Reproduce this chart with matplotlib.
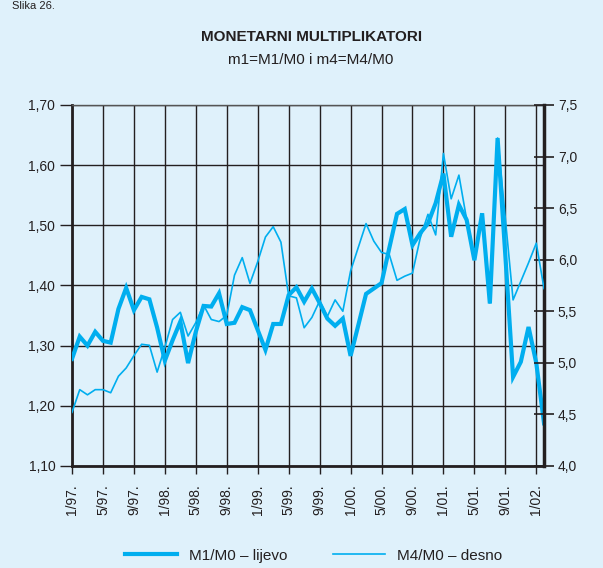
import matplotlib.pyplot as plt
from matplotlib.ticker import FuncFormatter

# monthly values, 1/97 .. 2/02
m1_m0 = [
    1.278, 1.315, 1.300, 1.323, 1.308, 1.305, 1.361, 1.396, 1.359, 1.381,
    1.377, 1.330, 1.275, 1.309, 1.340, 1.271, 1.323, 1.366, 1.365, 1.387,
    1.336, 1.338, 1.364, 1.359, 1.326, 1.293, 1.336, 1.336, 1.384, 1.397,
    1.373, 1.395, 1.371, 1.345, 1.333, 1.345, 1.283, 1.334, 1.386, 1.395,
    1.404, 1.462, 1.519, 1.527, 1.467, 1.487, 1.503, 1.537, 1.586, 1.481,
    1.534, 1.509, 1.442, 1.520, 1.370, 1.645, 1.450, 1.248, 1.273, 1.331,
    1.271, 1.171,
]
m4_m0 = [
    4.52, 4.74, 4.69, 4.74, 4.74, 4.71, 4.87, 4.95, 5.07, 5.18,
    5.17, 4.91, 5.15, 5.42, 5.49, 5.26, 5.39, 5.56, 5.42, 5.40,
    5.46, 5.85, 6.02, 5.77, 5.98, 6.22, 6.32, 6.17, 5.65, 5.63,
    5.34, 5.44, 5.60, 5.45, 5.61, 5.50, 5.89, 6.12, 6.35, 6.18,
    6.07, 6.05, 5.80, 5.84, 5.87, 6.21, 6.44, 6.24, 7.03, 6.59,
    6.82, 6.39, 6.00, 6.44, 5.58, 7.18, 6.40, 5.61, 5.79, 5.97,
    6.16, 5.72,
]
months = list(range(len(m1_m0)))
tick_labels = [
    "1/97.", "5/97.", "9/97.", "1/98.", "5/98.", "9/98.", "1/99.", "5/99.",
    "9/99.", "1/00.", "5/00.", "9/00.", "1/01.", "5/01.", "9/01.", "1/02.",
]
left_ticks = [1.10, 1.20, 1.30, 1.40, 1.50, 1.60, 1.70]
right_ticks = [4.0, 4.5, 5.0, 5.5, 6.0, 6.5, 7.0, 7.5]

BG = "#dff1fb"
BLUE = "#00aeef"
DARK = "#231f20"

plt.rcParams["font.family"] = ["Liberation Sans", "DejaVu Sans"]


def comma(fmt):
    return FuncFormatter(lambda v, _: (fmt % v).replace(".", ","))


def plot_multipliers(save_path="out.png"):
    """Two-axis line chart of the monetary multipliers m1 and m4."""
    fig = plt.figure(figsize=(6.03, 5.68), dpi=100, facecolor=BG)
    ax = fig.add_axes([0.1194, 0.1796, 0.7828, 0.6356], facecolor=BG)
    ax2 = ax.twinx()

    l1, = ax.plot(months, m1_m0, color=BLUE, lw=3.0, solid_joinstyle="miter",
                  label="M1/M0 – lijevo", zorder=3)
    l2, = ax2.plot(months, m4_m0, color=BLUE, lw=1.2,
                   label="M4/M0 – desno", zorder=3)

    ax.set_xlim(0, 61)
    ax.set_ylim(1.10, 1.70)
    ax2.set_ylim(4.0, 7.5)

    ax.set_xticks(range(0, 61, 4))
    ax.set_xticklabels(tick_labels, rotation=90, fontsize=10)
    ax.set_yticks(left_ticks)
    ax.yaxis.set_major_formatter(comma("%.2f"))
    ax2.set_yticks(right_ticks)
    ax2.yaxis.set_major_formatter(comma("%.1f"))

    ax.tick_params(axis="x", direction="out", length=6, width=1, color=DARK,
                   labelcolor=DARK, pad=7)
    ax.tick_params(axis="y", direction="out", length=9, width=1, color=DARK,
                   labelcolor=DARK, labelsize=10, pad=3)
    ax2.tick_params(axis="y", direction="inout", length=14, width=1.2,
                    color=DARK, labelcolor=DARK, labelsize=10, pad=3)

    ax.grid(True, color=DARK, lw=1.0)
    ax.set_axisbelow(True)

    for sp in ["left", "bottom"]:
        ax.spines[sp].set_linewidth(2.0)
        ax.spines[sp].set_color(DARK)
    ax.spines["top"].set_linewidth(1.0)
    ax.spines["top"].set_color("#555555")
    ax.spines["right"].set_visible(False)
    ax2.spines["right"].set_linewidth(2.5)
    ax2.spines["right"].set_color(DARK)
    for sp in ["left", "bottom", "top"]:
        ax2.spines[sp].set_visible(False)

    fig.text(0.02, 0.998, "Slika 26.", fontsize=8, va="top", color=DARK)
    fig.text(0.516, 0.935, "MONETARNI MULTIPLIKATORI", ha="center",
             va="center", fontsize=11, fontweight="bold", color=DARK)
    fig.text(0.516, 0.894, "m1=M1/M0 i m4=M4/M0", ha="center",
             va="center", fontsize=11, color=DARK)

    fig.legend(handles=[l1, l2], loc="center", bbox_to_anchor=(0.52, 0.022),
               ncol=2, frameon=False, fontsize=11, handlelength=3.4,
               columnspacing=3.0, handletextpad=0.8, labelcolor=DARK)

    if save_path:
        fig.savefig(save_path, facecolor=BG)
        print(f"Plot saved to: {save_path}")


if __name__ == "__main__":
    plot_multipliers("out.png")
